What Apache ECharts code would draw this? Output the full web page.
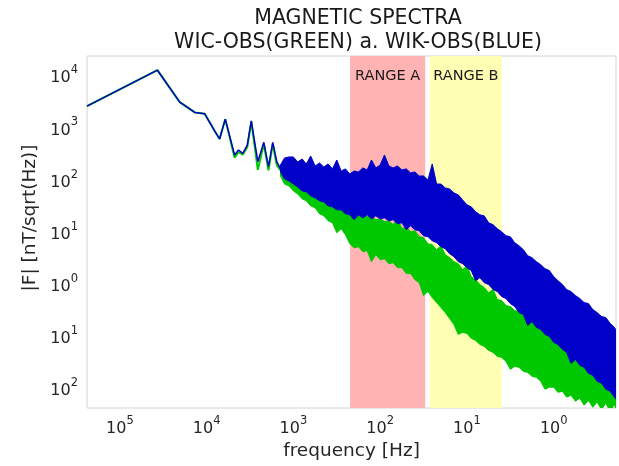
<!DOCTYPE html>
<html><head><meta charset="utf-8">
<script src="https://cdn.jsdelivr.net/npm/echarts@6/dist/echarts.min.js"></script>
<style>html,body{margin:0;padding:0;background:#fff}#c{width:619px;height:466px}</style>
</head><body><div id="c"></div>
<script>
// Low-frequency part (distinct line)
const lowFreq  = [4.18e-6, 2.71e-5, 4.9e-5, 7.3e-5, 9.5e-5, 1.24e-4, 1.41e-4, 1.64e-4, 2.1e-4, 2.33e-4, 2.61e-4, 2.94e-4, 3.27e-4, 3.89e-4, 4.56e-4, 5.16e-4, 5.78e-4, 6.43e-4, 7.1e-4];
const blueLow  = [2550, 12500, 3060, 1940, 1820, 850, 600, 1440, 295, 368, 318, 459, 1340, 220, 517, 177, 517, 220, 160];
const greenLow = [2550, 12500, 3060, 1940, 1820, 850, 600, 1440, 262, 335, 300, 420, 1300, 153, 480, 150, 480, 190, 150];

// Noisy part: envelope (upper / lower)
const bandFreq = [7.1e-4, 7.9e-4, 8.9e-4, 1.0e-3, 1.12e-3, 1.26e-3, 1.41e-3, 1.58e-3, 1.78e-3, 2.0e-3, 2.24e-3, 2.51e-3, 2.82e-3, 3.16e-3, 3.55e-3, 3.98e-3, 4.47e-3, 5.01e-3, 5.62e-3, 6.31e-3, 7.08e-3, 7.94e-3, 8.91e-3, 0.01, 0.0112, 0.0126, 0.0141, 0.0158, 0.0178, 0.02, 0.0224, 0.0251, 0.0282, 0.0316, 0.0355, 0.0398, 0.0447, 0.0501, 0.0562, 0.0631, 0.0708, 0.0794, 0.0891, 0.1, 0.112, 0.126, 0.141, 0.158, 0.178, 0.2, 0.224, 0.251, 0.282, 0.316, 0.355, 0.398, 0.447, 0.501, 0.562, 0.631, 0.708, 0.794, 0.891, 1.0, 1.12, 1.26, 1.41, 1.58, 1.78, 2.0, 2.24, 2.51, 2.82, 3.16, 3.55, 3.98, 4.47, 5.01, 5.25];
const blueUpper = [190, 259, 271, 271, 217, 248, 199, 283, 182, 208, 174, 199, 160, 237, 146, 160, 128, 146, 140, 167, 153, 237, 167, 190, 296, 182, 167, 182, 153, 160, 134, 140, 117, 117, 98, 199, 82, 82, 69, 66, 55.4, 50.8, 40.7, 32.7, 29.9, 24.0, 21.0, 20.1, 14.8, 13.6, 11.4, 9.96, 8.35, 7.99, 6.13, 5.37, 4.51, 3.46, 3.17, 2.66, 2.33, 1.95, 1.79, 1.37, 1.15, 0.966, 0.775, 0.710, 0.595, 0.521, 0.437, 0.418, 0.321, 0.281, 0.236, 0.226, 0.174, 0.146, 0.128];
const blueLower = [140, 103, 94, 82, 72, 60.5, 57.9, 48.6, 44.5, 39.0, 37.3, 31.3, 29.9, 26.2, 26.2, 22.0, 21.0, 16.9, 21.0, 18.4, 21.0, 17.6, 20.1, 17.6, 18.4, 16.2, 16.9, 14.2, 14.8, 10.9, 13.0, 10.9, 10.4, 8.35, 7.99, 6.70, 6.13, 5.14, 4.71, 3.78, 3.31, 2.66, 2.43, 2.04, 1.79, 1.15, 1.31, 1.05, 0.966, 0.775, 0.710, 0.569, 0.521, 0.418, 0.366, 0.281, 0.258, 0.159, 0.189, 0.146, 0.133, 0.107, 0.098, 0.0752, 0.0688, 0.0552, 0.0484, 0.0298, 0.0355, 0.0273, 0.0250, 0.0192, 0.0176, 0.0135, 0.0124, 0.0095, 0.0087, 0.0067, 0.0061];
const greenUpper = [167, 153, 140, 128, 117, 103, 94, 82, 75, 66, 60.5, 53.0, 48.6, 42.6, 37.3, 32.7, 27.4, 24.0, 22.0, 21.0, 19.3, 20.1, 16.9, 17.6, 15.5, 16.2, 13.6, 17.6, 11.4, 12.4, 9.96, 10.4, 7.99, 7.65, 5.87, 5.62, 4.51, 5.37, 3.62, 3.17, 2.66, 2.43, 1.87, 2.23, 1.37, 1.20, 0.966, 0.847, 0.679, 0.775, 0.499, 0.477, 0.383, 0.366, 0.307, 0.294, 0.247, 0.236, 0.198, 0.189, 0.159, 0.152, 0.128, 0.122, 0.102, 0.098, 0.082, 0.0786, 0.0659, 0.0603, 0.0528, 0.0484, 0.0405, 0.0388, 0.0325, 0.0311, 0.0261, 0.0250, 0.0219];
const greenLower = [117, 82, 75, 60.5, 53.0, 42.6, 39.0, 31.3, 28.6, 22.0, 20.1, 16.2, 14.8, 9.53, 11.4, 8.73, 5.87, 4.92, 5.14, 4.13, 4.31, 2.66, 3.62, 2.90, 3.03, 2.43, 2.54, 2.04, 2.04, 1.57, 1.57, 1.20, 1.05, 0.595, 0.710, 0.545, 0.437, 0.351, 0.281, 0.216, 0.166, 0.107, 0.117, 0.112, 0.090, 0.082, 0.0688, 0.0630, 0.0528, 0.0484, 0.0405, 0.0388, 0.0325, 0.0229, 0.0261, 0.0250, 0.0209, 0.0200, 0.0168, 0.0161, 0.0135, 0.0095, 0.0104, 0.0104, 0.0083, 0.0087, 0.0067, 0.0073, 0.0056, 0.0064, 0.0047, 0.0058, 0.0043, 0.0054, 0.0039, 0.0051, 0.0036, 0.0049, 0.0038];

// Ticks (labels as they appear in the picture)
const xTickValues = [1e-5, 1e-4, 1e-3, 1e-2, 1e-1, 1];
const xTickSup    = ['5', '4', '3', '2', '1', '0'];
const yTickValues = [1e-2, 1e-1, 1, 10, 100, 1000, 10000];
const yTickSup    = ['2', '1', '0', '1', '2', '3', '4'];

// Shaded frequency ranges
const rangeNames  = ['RANGE A', 'RANGE B'];
const rangeStart  = [0.0045, 0.0375];
const rangeEnd    = [0.033, 0.252];
const rangeColors = ['#ffb3b3', '#ffffb3'];

const BLUE = '#0000c8', GREEN = '#00c800', TXT = '#262626', FONT = 'DejaVu Sans';

function tickLabel(values, sups) {
  return function (v) {
    for (let i = 0; i < values.length; i++) {
      if (Math.abs(Math.log10(v) - Math.log10(values[i])) < 1e-6) return '{b|10}{s|' + sups[i] + '}';
    }
    return '';
  };
}
const richStyle = {
  b: { fontSize: 16, lineHeight: 22, verticalAlign: 'bottom', fontFamily: FONT, color: TXT },
  s: { fontSize: 11.5, lineHeight: 10, verticalAlign: 'top', fontFamily: FONT, color: TXT }
};

function bandSeries(name, upper, lower, color, z) {
  return {
    type: 'custom', name: name, z: z, clip: true, silent: true,
    data: bandFreq.map((f, i) => [f, lower[i], upper[i]]),
    encode: { x: 0, y: [1, 2] },
    renderItem: function (params, api) {
      if (params.dataIndex !== 0) return null;
      const pts = [];
      for (let i = 0; i < bandFreq.length; i++) pts.push(api.coord([bandFreq[i], upper[i]]));
      for (let i = bandFreq.length - 1; i >= 0; i--) pts.push(api.coord([bandFreq[i], lower[i]]));
      return { type: 'polygon', shape: { points: pts }, style: { fill: color, stroke: color, lineWidth: 1 } };
    }
  };
}

const chart = echarts.init(document.getElementById('c'), null, { renderer: 'canvas' });
chart.setOption({
  animation: false,
  backgroundColor: '#fff',
  grid: { left: 87, right: 1.5, top: 56, bottom: 57, show: true, borderColor: '#d4d4d4', borderWidth: 1, backgroundColor: '#fff' },
  graphic: [
    { type: 'text', x: 358, y: 19, silent: true, style: { text: 'MAGNETIC SPECTRA', font: '20.5px "DejaVu Sans"', fill: '#1a1a1a', align: 'center', verticalAlign: 'middle' } },
    { type: 'text', x: 358, y: 43, silent: true, style: { text: 'WIC-OBS(GREEN) a. WIK-OBS(BLUE)', font: '20.5px "DejaVu Sans"', fill: '#1a1a1a', align: 'center', verticalAlign: 'middle' } }
  ],
  xAxis: {
    type: 'log', logBase: 10, min: 4.18e-6, max: 5.22,
    axisLine: { show: false }, axisTick: { show: false }, splitLine: { show: false },
    axisLabel: { formatter: tickLabel(xTickValues, xTickSup), rich: richStyle, margin: 7 },
    name: 'frequency [Hz]', nameLocation: 'middle', nameGap: 34,
    nameTextStyle: { fontSize: 18.5, fontFamily: FONT, color: TXT }
  },
  yAxis: {
    type: 'log', logBase: 10, min: 0.00415, max: 23400,
    axisLine: { show: false }, axisTick: { show: false }, splitLine: { show: false },
    axisLabel: { formatter: tickLabel(yTickValues, yTickSup), rich: richStyle, margin: 9 },
    name: '|F| [nT/sqrt(Hz)]', nameLocation: 'middle', nameGap: 45,
    nameTextStyle: { fontSize: 18.5, fontFamily: FONT, color: TXT, padding: [0, 0, 0, 28] }
  },
  series: [
    bandSeries('green band', greenUpper, greenLower, GREEN, 3),
    {
      type: 'line', name: 'WIC-OBS', z: 3, showSymbol: false, silent: true,
      data: lowFreq.map((f, i) => [f, greenLow[i]]),
      lineStyle: { color: GREEN, width: 2 },
      markArea: {
        silent: true,
        data: rangeNames.map((n, i) => [
          { name: n, xAxis: rangeStart[i], itemStyle: { color: rangeColors[i], opacity: 1 } },
          { xAxis: rangeEnd[i] }
        ]),
        label: { show: true, position: 'insideTop', distance: 13, color: '#1a1a1a', fontSize: 14.5, fontFamily: FONT }
      }
    },
    bandSeries('blue band', blueUpper, blueLower, BLUE, 4),
    {
      type: 'line', name: 'WIK-OBS', z: 4, showSymbol: false, silent: true,
      data: lowFreq.map((f, i) => [f, blueLow[i]]),
      lineStyle: { color: BLUE, width: 1.5 }
    }
  ]
});
</script>
</body></html>
